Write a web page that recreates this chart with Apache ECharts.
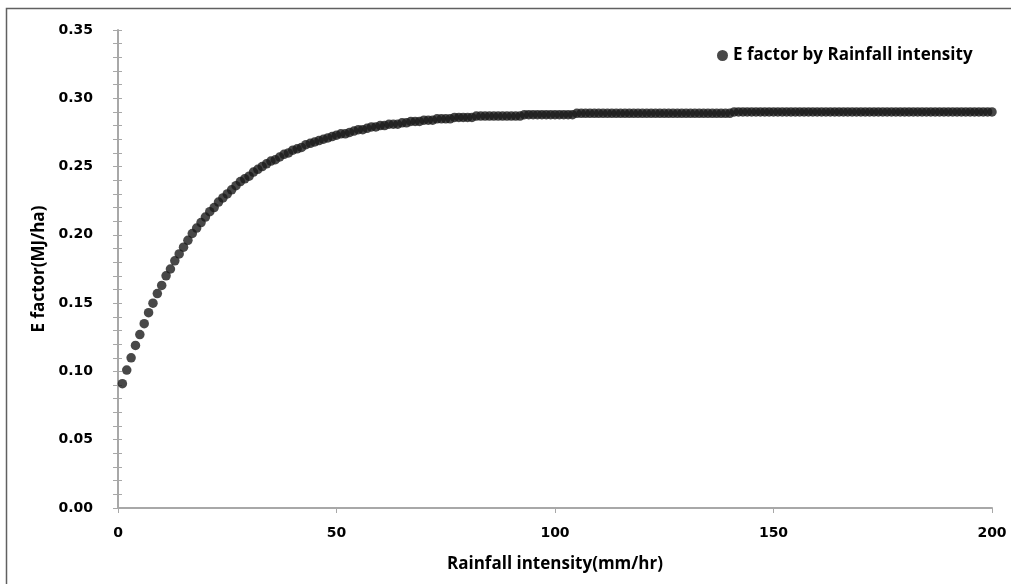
<!DOCTYPE html>
<html>
<head>
<meta charset="utf-8">
<script src="https://cdn.jsdelivr.net/npm/echarts@6/dist/echarts.min.js"></script>
</head>
<body style="margin:0;background:#fff;">
<div id="main" style="width:1011px;height:584px;"></div>
<script type="text/javascript">
    // E factor, one value per rainfall intensity 1..200 mm/hr
    var efactor = [
        0.091, 0.101, 0.110, 0.119, 0.127, 0.135, 0.143, 0.150, 0.157, 0.163,
        0.170, 0.175, 0.181, 0.186, 0.191, 0.196, 0.201, 0.205, 0.209, 0.213,
        0.217, 0.220, 0.224, 0.227, 0.230, 0.233, 0.236, 0.239, 0.241, 0.243,
        0.246, 0.248, 0.250, 0.252, 0.254, 0.255, 0.257, 0.259, 0.260, 0.262,
        0.263, 0.264, 0.266, 0.267, 0.268, 0.269, 0.270, 0.271, 0.272, 0.273,
        0.274, 0.274, 0.275, 0.276, 0.277, 0.277, 0.278, 0.279, 0.279, 0.280,
        0.280, 0.281, 0.281, 0.281, 0.282, 0.282, 0.283, 0.283, 0.283, 0.284,
        0.284, 0.284, 0.285, 0.285, 0.285, 0.285, 0.286, 0.286, 0.286, 0.286,
        0.286, 0.287, 0.287, 0.287, 0.287, 0.287, 0.287, 0.287, 0.287, 0.287,
        0.287, 0.287, 0.288, 0.288, 0.288, 0.288, 0.288, 0.288, 0.288, 0.288,
        0.288, 0.288, 0.288, 0.288, 0.289, 0.289, 0.289, 0.289, 0.289, 0.289,
        0.289, 0.289, 0.289, 0.289, 0.289, 0.289, 0.289, 0.289, 0.289, 0.289,
        0.289, 0.289, 0.289, 0.289, 0.289, 0.289, 0.289, 0.289, 0.289, 0.289,
        0.289, 0.289, 0.289, 0.289, 0.289, 0.289, 0.289, 0.289, 0.289, 0.289,
        0.290, 0.290, 0.290, 0.290, 0.290, 0.290, 0.290, 0.290, 0.290, 0.290,
        0.290, 0.290, 0.290, 0.290, 0.290, 0.290, 0.290, 0.290, 0.290, 0.290,
        0.290, 0.290, 0.290, 0.290, 0.290, 0.290, 0.290, 0.290, 0.290, 0.290,
        0.290, 0.290, 0.290, 0.290, 0.290, 0.290, 0.290, 0.290, 0.290, 0.290,
        0.290, 0.290, 0.290, 0.290, 0.290, 0.290, 0.290, 0.290, 0.290, 0.290,
        0.290, 0.290, 0.290, 0.290, 0.290, 0.290, 0.290, 0.290, 0.290, 0.290
    ];
    var seriesName = 'E factor by Rainfall intensity';
    var xTitle = 'Rainfall intensity(mm/hr)';
    var yTitle = 'E factor(MJ/ha)';

    // intensity is just the position in the list (1 mm/hr steps)
    var points = efactor.map(function (v, i) { return [i + 1, v]; });

    var labelFont = { fontFamily: 'DejaVu Sans', fontWeight: 'bold', fontSize: 14, color: '#000' };
    var titleFont = { fontFamily: 'Open Sans', fontWeight: 'bold', fontSize: 17, color: '#000' };
    var axisGray = '#a8a8a8';

    var myChart = echarts.init(document.getElementById('main'));
    var option = {
        animation: false,
        backgroundColor: '#fff',
        graphic: [{
            // frame only shows on top and left, runs off the right/bottom
            type: 'rect',
            shape: { x: 6.5, y: 8.5, width: 1100, height: 700 },
            style: { fill: 'none', stroke: '#606060', lineWidth: 1.5 },
            silent: true
        }],
        legend: {
            left: 712,
            top: 42,
            itemWidth: 11,
            itemHeight: 11,
            itemGap: 4,
            textStyle: titleFont,
            data: [{ name: seriesName, icon: 'circle' }]
        },
        grid: { left: 118, right: 19, top: 30, bottom: 76 },
        xAxis: {
            type: 'value',
            min: 0,
            max: 200,
            interval: 50,
            name: xTitle,
            nameLocation: 'middle',
            nameGap: 48,
            nameTextStyle: titleFont,
            axisLine: { lineStyle: { color: axisGray, width: 2 } },
            axisTick: { show: true, length: 5, lineStyle: { color: axisGray } },
            axisLabel: Object.assign({ margin: 18 }, labelFont),
            splitLine: { show: false }
        },
        yAxis: [{
            type: 'value',
            min: 0,
            max: 0.35,
            interval: 0.05,
            name: yTitle,
            nameLocation: 'middle',
            nameGap: 63,
            nameRotate: 90,
            nameTextStyle: titleFont,
            axisLine: { show: true, lineStyle: { color: axisGray, width: 2 } },
            axisTick: { show: true, length: 5, lineStyle: { color: axisGray } },
            minorTick: { show: true, splitNumber: 5, length: 5, lineStyle: { color: axisGray } },
            axisLabel: Object.assign({
                margin: 25,
                formatter: function (v) { return v.toFixed(2); }
            }, labelFont),
            splitLine: { show: false }
        }, {
            // inside half of the crossing tick marks
            type: 'value',
            position: 'left',
            min: 0,
            max: 0.35,
            interval: 0.05,
            axisLine: { show: false },
            axisTick: { show: true, inside: true, length: 4, lineStyle: { color: axisGray } },
            minorTick: { show: true, splitNumber: 5, length: 4, lineStyle: { color: axisGray } },
            axisLabel: { show: false },
            splitLine: { show: false }
        }],
        series: [{
            name: seriesName,
            type: 'scatter',
            symbol: 'circle',
            symbolSize: 9.5,
            itemStyle: { color: '#1a1a1a' },
            data: points
        }]
    };
    myChart.setOption(option);
</script>
</body>
</html>
